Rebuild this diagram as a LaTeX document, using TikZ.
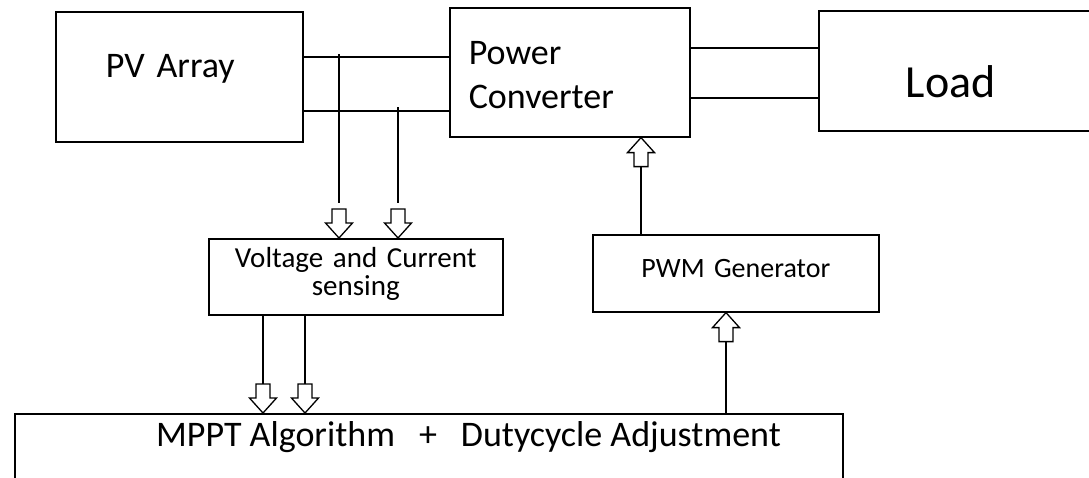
\documentclass[tikz,border=0pt]{standalone}
\usepackage{fontspec}
\setmainfont{Carlito}
\tikzset{
    block/.style={
        draw,
        line width=1.6pt,
        inner ysep=0pt,
        anchor=north west
    },
    wire/.style={
        line width=1.6pt
    },
    hollow down/.pic={
        \draw [line width=1.3pt, fill=white]
        (0,0) -- (-13.5,-15) -- (-7,-15) -- (-7,-29) -- (7,-29) -- (7,-15) -- (13.5,-15) -- cycle;
    }
}

\begin{document}
\begin{tikzpicture}[x=1pt, y=-1pt]
    \clip (0,0) rectangle (1089,477);
    \fill [white] (0,0) rectangle (1089,477);

    \node [block, text width=147pt, inner xsep=50pt, align=left,
        text height=66pt, text depth=64pt,
        font=\fontsize{36}{44}\selectfont] (pv) at (55,11) {PV Array};
    \node [block, text width=202pt, inner xsep=19pt, align=left,
        text height=57pt, text depth=72pt,
        font=\fontsize{36}{44}\selectfont] (conv) at (449,7) {Power\\Converter};
    \node [block, text width=116pt, inner xsep=87pt, align=left,
        text height=87pt, text depth=33pt,
        font=\fontsize{46}{52}\selectfont] (load) at (818,10) {Load};
    \node [block, text width=294pt, inner xsep=0pt, align=center,
        text height=29pt, text depth=47pt,
        font=\fontsize{29}{28}\selectfont] (sense) at (208,238) {Voltage and Current\\sensing};
    \node [block, text width=286pt, inner xsep=0pt, align=center,
        text height=43pt, text depth=34pt,
        font=\fontsize{28}{32}\selectfont] (pwm) at (592,234) {PWM Generator};
    \node [block, text width=828pt, inner xsep=0pt,
        text height=0pt, text depth=100pt,
        label={[anchor=base west, inner sep=0pt, xshift=142pt, yshift=-33pt,
            font=\fontsize{36}{44}\selectfont]north west:MPPT Algorithm\hspace{24pt}+\hspace{24pt}Dutycycle Adjustment}]
        (mppt) at (14,413) {};

    % power path
    \draw [wire] (pv.east |- 0,57) -- (conv.west |- 0,57);
    \draw [wire] (pv.east |- 0,111) -- (conv.west |- 0,111);
    \draw [wire] (conv.east |- 0,48) -- (load.west |- 0,48);
    \draw [wire] (conv.east |- 0,98) -- (load.west |- 0,98);

    % sensing taps
    \foreach \x/\y in {339/54, 398/107} {
        \draw [wire] (\x,\y) -- (\x,203);
        \pic at (sense.north -| \x,0) {hollow down};
    }
    \foreach \x in {263,305} {
        \draw [wire] (sense.south -| \x,0) -- (\x,384);
        \pic at (mppt.north -| \x,0) {hollow down};
    }

    % control path
    \draw [wire] (pwm.north -| 641,0) -- (641,165);
    \pic [rotate=180] at (conv.south -| 641,0) {hollow down};
    \draw [wire] (mppt.north -| 726,0) -- (726,340);
    \pic [rotate=180] at (pwm.south -| 726,0) {hollow down};
\end{tikzpicture}
\end{document}
